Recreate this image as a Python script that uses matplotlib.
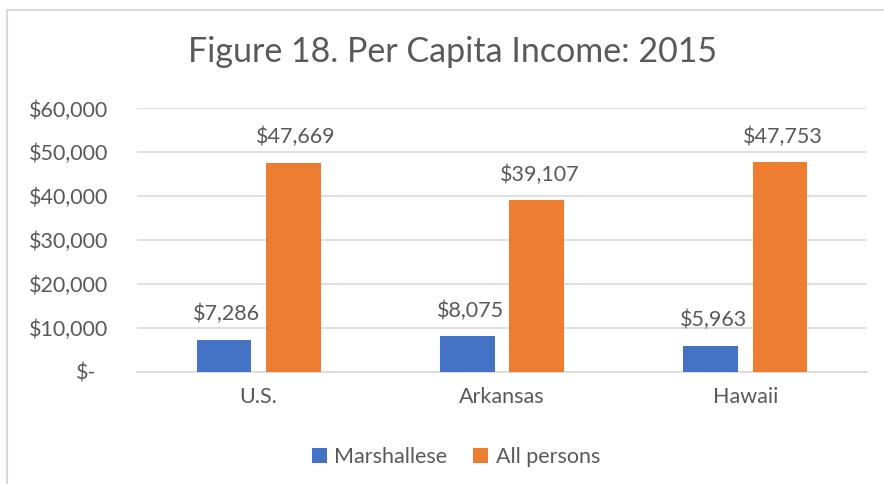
import matplotlib
matplotlib.use("Agg")
import matplotlib.pyplot as plt
import matplotlib.transforms as mtransforms
from matplotlib.lines import Line2D
from matplotlib.patches import Patch
import numpy as np

categories = ["U.S.", "Arkansas", "Hawaii"]
series_names = ["Marshallese", "All persons"]
marshallese = [7286, 8075, 5963]
all_persons = [47669, 39107, 47753]
y_ticks = [0, 10000, 20000, 30000, 40000, 50000, 60000]
title = "Figure 18. Per Capita Income: 2015"

BLUE = "#4472C4"
ORANGE = "#ED7D31"
TXT = "#595959"
GRID = "#D9D9D9"
FONT = "Lato"

plt.rcParams["font.family"] = [FONT, "DejaVu Sans"]

W, H = 884, 484
fig = plt.figure(figsize=(W / 100, H / 100), dpi=100)

# axes box in pixels
x0, x1 = 137, 867
y0, y1 = 371.7, 108.4
ax = fig.add_axes([x0 / W, 1 - y0 / H, (x1 - x0) / W, (y0 - y1) / H])

x = np.arange(len(categories))
bw = 0.225
off = 0.142
b1 = ax.bar(x - off, marshallese, bw, color=BLUE, zorder=3)
b2 = ax.bar(x + off, all_persons, bw, color=ORANGE, zorder=3)

ax.set_xlim(-0.5, len(categories) - 0.5)
ax.set_ylim(0, 60000)
ax.set_yticks(y_ticks)
ax.set_yticklabels(["$-"] + [f"${v:,.0f}" for v in y_ticks[1:]])
ax.set_xticks(x)
ax.set_xticklabels(categories)

for s in ["top", "right", "left"]:
    ax.spines[s].set_visible(False)
ax.spines["bottom"].set_color(GRID)
ax.spines["bottom"].set_linewidth(1.2)
ax.grid(axis="y", color=GRID, linewidth=1.2, zorder=0)
ax.tick_params(axis="both", length=0, colors=TXT, labelsize=15.5)
ax.tick_params(axis="y", pad=21)
ax.tick_params(axis="x", pad=11)

# shift "$-" label like accounting format
lbl0 = ax.get_yticklabels()[0]
lbl0.set_transform(lbl0.get_transform() + mtransforms.ScaledTranslation(-11 / 100, 0, fig.dpi_scale_trans))

for bars, vals in [(b1, marshallese), (b2, all_persons)]:
    for r, v in zip(bars, vals):
        ax.annotate(f"${v:,.0f}", (r.get_x() + r.get_width() / 2, v),
                    xytext=(2, 18.5), textcoords="offset points",
                    ha="center", va="center", fontsize=15.5, color=TXT)

fig.text(453 / W, 1 - 52 / H, title, ha="center", va="center",
         fontsize=24.5, color=TXT)

handles = [Patch(facecolor=BLUE), Patch(facecolor=ORANGE)]
fig.legend(handles, series_names, loc="center", bbox_to_anchor=(456 / W, 1 - 457 / H),
           ncol=2, frameon=False, fontsize=15.5, handlelength=0.7, handleheight=0.7,
           handletextpad=0.35, columnspacing=1.2, labelcolor=TXT)

# chart border (left and top)
fig.add_artist(Line2D([7.5 / W, 7.5 / W], [0, 1 - 9.5 / H], transform=fig.transFigure,
                      color=GRID, linewidth=1.5))
fig.add_artist(Line2D([7.5 / W, 1], [1 - 9.5 / H, 1 - 9.5 / H], transform=fig.transFigure,
                      color=GRID, linewidth=1.5))

fig.savefig("out.png", dpi=100)
